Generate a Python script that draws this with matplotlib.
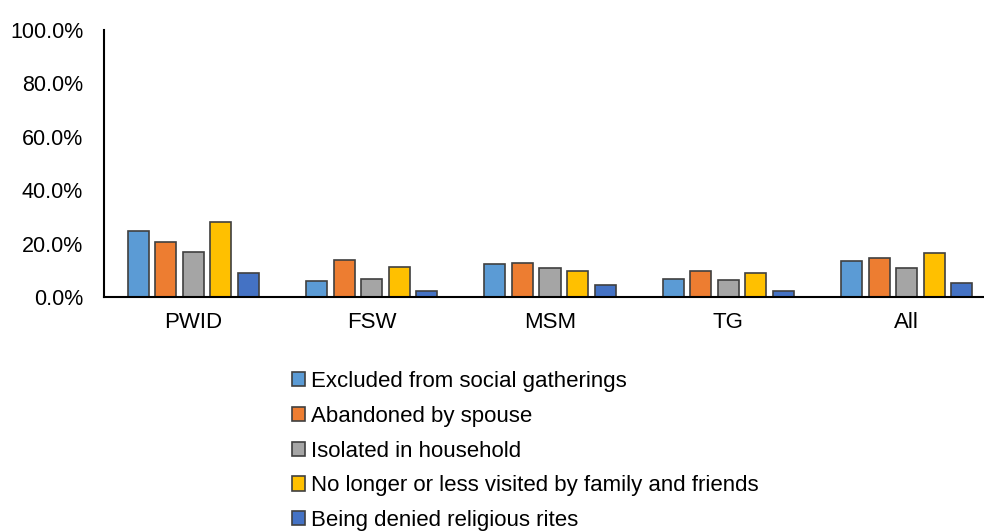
import numpy as np
import matplotlib
matplotlib.use("Agg")
import matplotlib.pyplot as plt
from matplotlib.ticker import PercentFormatter

plt.rcParams['font.family'] = ['Liberation Sans', 'DejaVu Sans']

groups = ["PWID", "FSW", "MSM", "TG", "All"]
series = [
    "Excluded from social gatherings",
    "Abandoned by spouse",
    "Isolated in household",
    "No longer or less visited by family and friends",
    "Being denied religious rites",
]
excluded = [24.8, 6.0, 12.2, 6.9, 13.6]
abandoned = [20.6, 13.9, 12.6, 9.7, 14.7]
isolated = [17.0, 6.9, 10.7, 6.2, 10.7]
not_visited = [28.2, 11.3, 9.7, 9.1, 16.5]
denied_rites = [8.9, 2.1, 4.5, 2.4, 5.1]
values = [excluded, abandoned, isolated, not_visited, denied_rites]
colors = ["#5B9BD5", "#ED7D31", "#A5A5A5", "#FFC000", "#4472C4"]

fig = plt.figure(figsize=(9.84, 5.31), dpi=100)
W, H = 984, 531
ax = fig.add_axes([104 / W, 1 - 297 / H, 892 / W, (297 - 30) / H])

x = np.arange(len(groups))
pitch = 0.1545
width = 0.118
for i, (name, vals, c) in enumerate(zip(series, values, colors)):
    ax.bar(x + (i - 2) * pitch, vals, width, color=c, edgecolor="#404040",
           linewidth=1.2, label=name)

ax.set_xlim(-0.5, 4.5)
ax.set_ylim(0, 100)
ax.set_yticks(np.arange(0, 101, 20))
ax.yaxis.set_major_formatter(PercentFormatter(decimals=1))
ax.set_xticks(x)
ax.set_xticklabels(groups)
ax.tick_params(axis='y', length=0, pad=15, labelsize=15.5, colors="#000000")
ax.tick_params(axis='x', length=0, pad=11, labelsize=16)
for s in ["top", "right"]:
    ax.spines[s].set_visible(False)
ax.spines["left"].set_linewidth(1.5)
ax.spines["bottom"].set_linewidth(1.5)

fig.legend(loc="upper left", bbox_to_anchor=(292 / W, 1 - 371 / H),
           bbox_transform=fig.transFigure, frameon=False, fontsize=16,
           handlelength=0.6, handleheight=0.6, handletextpad=0.25,
           labelspacing=0.62, borderpad=0, borderaxespad=0)

fig.savefig("out.png", dpi=100)
